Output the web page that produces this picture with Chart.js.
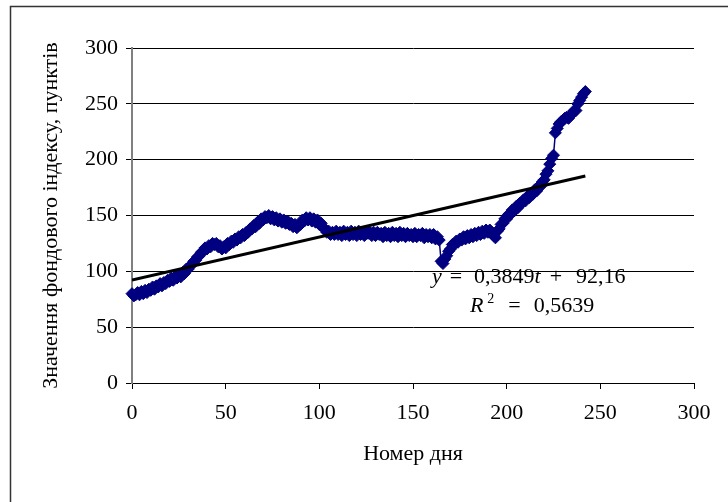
<!DOCTYPE html>
<html>
<head>
<meta charset="utf-8">
<script src="https://cdn.jsdelivr.net/npm/chart.js@4.4.0/dist/chart.umd.min.js"></script>
<style>
html,body{margin:0;padding:0;background:#fff;}
#wrap{width:728px;height:502px;position:relative;overflow:hidden;}
</style>
</head>
<body>
<div id="wrap"><canvas id="c" width="728" height="502"></canvas></div>
<script>
// Stock index values by day number (day 0 .. 242)
const indexValues = [
  80, 78, 79, 81, 79, 82, 80, 83, 81, 84,
  83, 86, 84, 87, 86, 89, 87, 90, 89, 92,
  91, 94, 92, 95, 94, 97, 95, 99, 98, 102,
  102, 105, 106, 109, 110, 113, 114, 117, 118, 121,
  120, 123, 122, 125, 124, 125, 122, 123, 120, 122,
  121, 125, 124, 127, 126, 129, 128, 131, 130, 133,
  132, 135, 135, 138, 138, 141, 140, 144, 143, 147,
  146, 149, 148, 150, 147, 149, 146, 148, 145, 147,
  144, 146, 143, 145, 142, 143, 140, 142, 139, 141,
  142, 146, 145, 148, 146, 148, 145, 147, 144, 146,
  142, 143, 139, 138, 135, 136, 133, 135, 133, 136,
  133, 135, 132, 136, 133, 135, 132, 136, 133, 135,
  132, 136, 133, 135, 132, 136, 134, 135, 132, 135,
  132, 135, 133, 134, 131, 135, 132, 134, 131, 135,
  132, 134, 131, 135, 132, 134, 131, 134, 132, 133,
  131, 134, 131, 133, 132, 134, 130, 133, 131, 133,
  130, 133, 129, 131, 128, 109, 107, 111, 114, 118,
  120, 124, 124, 127, 126, 129, 128, 131, 129, 132,
  130, 133, 131, 134, 132, 135, 133, 136, 134, 137,
  135, 137, 135, 132, 130, 136, 138, 142, 143, 147,
  147, 151, 151, 155, 154, 158, 157, 161, 161, 164,
  163, 167, 166, 170, 169, 173, 172, 176, 176, 180,
  182, 187, 190, 196, 201, 204, 224, 228, 232, 234,
  235, 237, 238, 237, 240, 241, 244, 244, 250, 253,
  256, 259, 261
];
const dayNumbers = indexValues.map((_, i) => i);

// Linear trend line end points (y = 0,3849t + 92,16)
const trendDays = [0, 242];
const trendValues = [92.16, 185.31];

// Axis ticks
const xTickValues = [0, 50, 100, 150, 200, 250, 300];
const yTickValues = [0, 50, 100, 150, 200, 250, 300];

// Texts
const xTitle = 'Номер дня';
const yTitle = 'Значення фондового індексу, пунктів';
const eqAnchor = {day: 160.1, value: 89.5};

const FONT = "'Liberation Serif', 'Times New Roman', serif";
Chart.defaults.font.family = FONT;
Chart.defaults.font.size = 22;
Chart.defaults.color = '#000';

const framePlugin = {
  id: 'frame',
  beforeDraw(chart) {
    const c = chart.ctx;
    c.save();
    c.fillStyle = '#fff';
    c.fillRect(0, 0, chart.width, chart.height);
    c.restore();
  },
  afterDraw(chart) {
    const c = chart.ctx;
    c.save();
    c.strokeStyle = '#333';
    c.lineWidth = 1.5;
    c.strokeRect(10.5, 6.5, 900, 700);
    c.restore();
  }
};

const equationPlugin = {
  id: 'equation',
  afterDatasetsDraw(chart) {
    const c = chart.ctx;
    const xs = chart.scales.x, ys = chart.scales.y;
    const x0 = xs.getPixelForValue(eqAnchor.day);
    const y0 = ys.getPixelForValue(eqAnchor.value);
    c.save();
    c.fillStyle = '#000';
    c.textBaseline = 'alphabetic';
    c.textAlign = 'left';
    const norm = '22px ' + FONT;
    const ital = 'italic 22px ' + FONT;
    function piece(txt, font, x, y) {
      c.font = font;
      c.fillText(txt, x, y);
      return x + c.measureText(txt).width;
    }
    // line 1
    let x = x0;
    x = piece('y', ital, x, y0);
    x += 8;
    x = piece('=', norm, x, y0);
    x += 12;
    x = piece('0,3849', norm, x, y0);
    x = piece('t', ital, x, y0);
    x += 9;
    x = piece('+', norm, x, y0);
    x += 14;
    piece('92,16', norm, x, y0);
    // line 2
    const y1 = y0 + 29;
    x = x0 + 38;
    x = piece('R', ital, x, y1);
    x += 4;
    x = piece('2', '14px ' + FONT, x, y1 - 9);
    x += 14;
    x = piece('=', norm, x, y1);
    x += 13;
    piece('0,5639', norm, x, y1);
    c.restore();
  }
};

new Chart(document.getElementById('c'), {
  type: 'line',
  data: {
    datasets: [
      {
        label: 'trend',
        data: trendDays.map((d, i) => ({x: d, y: trendValues[i]})),
        borderColor: '#000',
        borderWidth: 3,
        pointRadius: 0,
        fill: false,
        tension: 0,
        order: 0
      },
      {
        label: 'index',
        data: dayNumbers.map((d, i) => ({x: d, y: indexValues[i]})),
        borderColor: '#000080',
        backgroundColor: '#000080',
        borderWidth: 1.5,
        pointStyle: 'rectRot',
        pointRadius: 6,
        pointBorderWidth: 1,
        pointBackgroundColor: '#000080',
        pointBorderColor: '#000080',
        fill: false,
        tension: 0,
        clip: false,
        order: 1
      }
    ]
  },
  options: {
    responsive: false,
    animation: false,
    events: [],
    layout: {padding: {left: 0, right: 34, top: 48, bottom: 0}},
    plugins: {legend: {display: false}, tooltip: {enabled: false}},
    scales: {
      x: {
        type: 'linear',
        min: 0, max: 300,
        afterBuildTicks(s) { s.ticks = xTickValues.map(v => ({value: v})); },
        ticks: {padding: 11, maxRotation: 0, autoSkip: false, font: {size: 22}},
        grid: {drawOnChartArea: false, drawTicks: true, tickLength: 6, color: '#000'},
        border: {color: '#000', width: 1},
        title: {display: true, text: xTitle, padding: {top: 0, bottom: 35}, font: {size: 22}},
        afterFit(s) { s.height = 119; }
      },
      y: {
        type: 'linear',
        min: 0, max: 300,
        afterBuildTicks(s) { s.ticks = yTickValues.map(v => ({value: v})); },
        ticks: {padding: 8, font: {size: 22}},
        grid: {color: '#000', tickLength: 6},
        border: {color: '#808080', width: 2},
        title: {display: true, text: yTitle, padding: {top: 38, bottom: 0}, font: {size: 22}},
        afterFit(s) { s.width = 132; }
      }
    }
  },
  plugins: [framePlugin, equationPlugin]
});
</script>
</body>
</html>
